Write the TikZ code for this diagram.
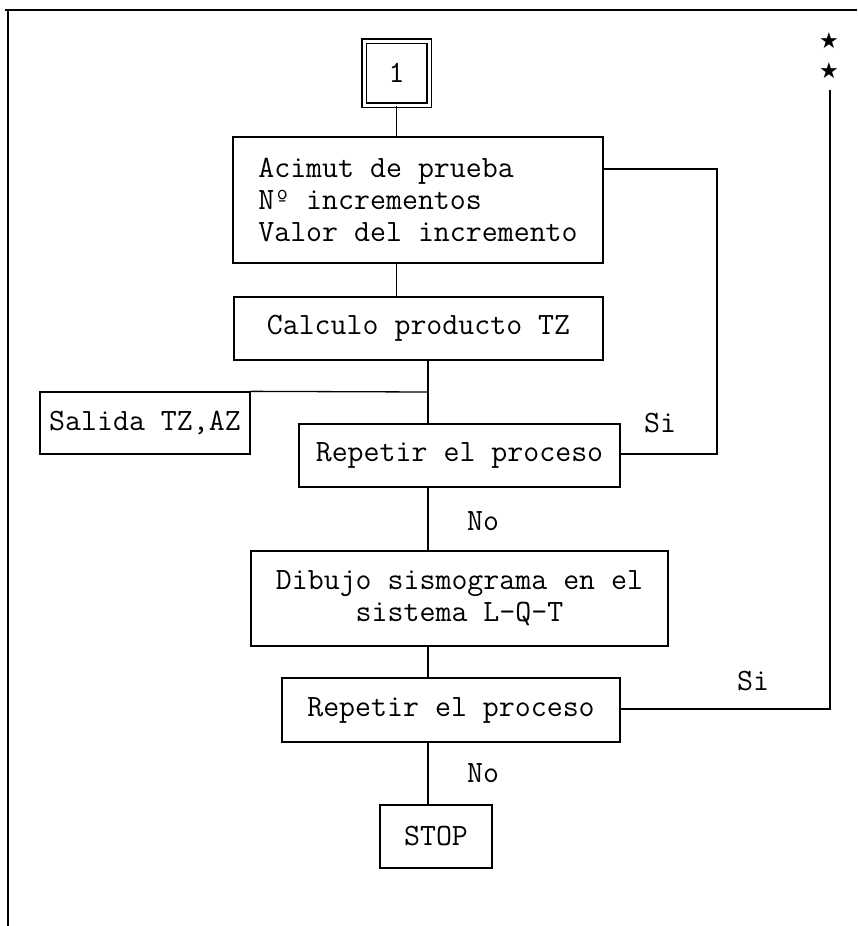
\documentclass[tikz,border=0pt]{standalone}
\usepackage{fontspec}
\newfontfamily\symfont{DejaVu Sans}
\begin{document}
\begin{tikzpicture}[x=1pt,y=-1pt,
  every node/.style={font=\ttfamily\fontsize{31}{32}\selectfont},
  procbox/.style={draw,line width=1.3pt,inner sep=0pt,align=center},
  link/.style={line width=1.3pt},
  frameline/.style={line width=1.8pt},
  lbl/.style={inner sep=0pt}]
\useasboundingbox (0,0) rectangle (857,926);

% open frame: top and left rules only
\draw[frameline] (5,10) -- (857,10);
\draw[frameline] (8,10) -- (8,926);

% start marker
\node[draw,double,double distance=3pt,line width=1.1pt,inner sep=0pt,
      minimum width=65pt,minimum height=64pt] (one) at (396.5,73) {1};

% process blocks
\node[procbox,align=left,minimum width=370pt,minimum height=126pt] (acimut) at (418,200)
  {Acimut de prueba\\N\char"00BA{} incrementos\\Valor del incremento};
\node[procbox,minimum width=369pt,minimum height=63pt] (calculo) at (418.5,328.5)
  {Calculo producto TZ};
\node[procbox,minimum width=210pt,minimum height=62pt] (salida) at (145,423)
  {Salida TZ,AZ};
\node[procbox,minimum width=321pt,minimum height=63pt] (rep1) at (459.5,455.5)
  {Repetir el proceso};
\node[procbox,minimum width=417pt,minimum height=95pt] (dibujo) at (459.5,598.5)
  {Dibujo sismograma en el\\sistema L-Q-T};
\node[procbox,minimum width=338pt,minimum height=64pt] (rep2) at (451,710)
  {Repetir el proceso};
\node[procbox,minimum width=112pt,minimum height=63pt] (stop) at (436,836.5)
  {STOP};

% junction points and loop corners
\coordinate (cA) at (396.5,0);
\coordinate (cB) at (428,0);
\coordinate (j1) at (428,392);
\coordinate (r1a) at (717,454);
\coordinate (r1b) at (717,169);
\coordinate (r2a) at (830,709);
\coordinate (r2b) at (830,90);

% main flow
\draw[link] (one.south) -- (one.south |- acimut.north);
\draw[link] (cA |- acimut.south) -- (cA |- calculo.north);
\draw[link] (cB |- calculo.south) -- (cB |- rep1.north);
\draw[link] (j1) -- (salida.north east);
\draw[link] (cB |- rep1.south) -- (cB |- dibujo.north);
\draw[link] (cB |- dibujo.south) -- (cB |- rep2.north);
\draw[link] (cB |- rep2.south) -- (cB |- stop.north);

% inner loop back to the trial azimuth
\draw[link] (rep1.east |- r1a) -- (r1a) -- (r1b) -- (acimut.east |- r1b);
% outer loop
\draw[link] (rep2.east |- r2a) -- (r2a) -- (r2b);

% branch labels
\node[lbl] (si1) at (660,423) {Si};
\node[lbl] (no1) at (483,521) {No};
\node[lbl] (si2) at (753,681) {Si};
\node[lbl] (no2) at (483,773) {No};

% continuation marks
\node[lbl,font=\symfont\fontsize{22}{22}\selectfont] (st1) at (829,41) {★};
\node[lbl,font=\symfont\fontsize{22}{22}\selectfont] (st2) at (829,71) {★};
\end{tikzpicture}
\end{document}
